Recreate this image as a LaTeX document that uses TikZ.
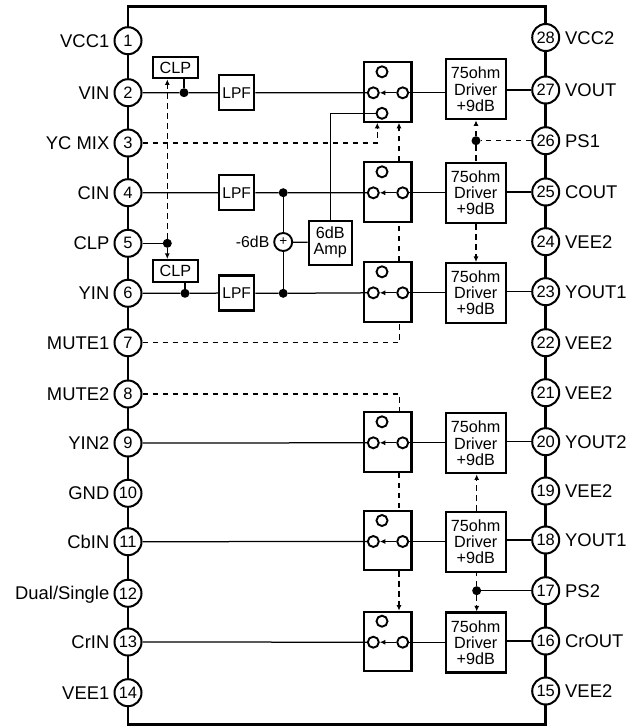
\documentclass[tikz,border=0pt]{standalone}
\usepackage{fontspec}
\setmainfont{Liberation Sans}
\usetikzlibrary{arrows.meta}
\newcommand{\fsz}[1]{\fontsize{#1}{16.2}\selectfont}
\tikzset{
  pinnode/.style={circle,draw,fill=white,line width=2pt,minimum size=27pt,inner sep=0pt,font=\fsz{16.5}},
  lbl/.style={inner sep=0pt,text height=13pt,text depth=0pt,font=\fsz{18.4}},
  boxbase/.style={draw,line width=2.1pt,fill=white,inner sep=0pt,align=center},
  swbox/.style={boxbase,minimum width=47.5pt,minimum height=59.4pt},
  drvbox/.style={boxbase,minimum width=60pt,minimum height=60pt,font=\fsz{16.2}},
  lpfbox/.style={boxbase,minimum width=35.3pt,minimum height=35pt,font=\fsz{15.6}},
  clpbox/.style={boxbase,minimum width=44.4pt,minimum height=21.6pt,font=\fsz{16.2}},
  ampbox/.style={boxbase,minimum width=43pt,minimum height=44pt,font=\fsz{16.2}},
  contact/.style={circle,draw,fill=white,line width=1.9pt,minimum size=11pt,inner sep=0pt},
  junction/.style={circle,fill=black,minimum size=9pt,inner sep=0pt},
  wire/.style={line width=1.25pt},
  ctl/.style={line width=1.15pt,dash pattern=on 5.5pt off 4.5pt},
  tip/.style={-{Latex[length=5.5pt,width=5pt]}},
}
\newcommand{\switchbox}[2]{%
  \node[swbox] (#1) at (387.7,#2+29.7) {};
  \node[contact] (#1t) at (382,#2+9.5) {};
  \node[contact] (#1l) at (373.3,#2+30.5) {};
  \node[contact] (#1r) at (402.7,#2+30.5) {};
  \draw[wire,tip] (#1r) -- (#1l);
}
\newcommand{\driver}[2]{\node[drvbox] (#1) at (475.7,#2+30) {75ohm\\Driver\\+9dB};}
\begin{document}
\begin{tikzpicture}[x=1pt,y=-1pt]
\useasboundingbox (0,0) rectangle (633,726);
\draw[line width=2.8pt] (128,6.3) rectangle (545.7,724.3);
% left pins
\foreach \n/\y/\t in {1/40.7/VCC1,2/92.7/VIN,3/143/YC MIX,4/192.7/CIN,5/243.3/CLP,6/293.3/YIN,7/342.7/MUTE1,8/394/MUTE2,9/443/YIN2,10/493.3/GND,11/541.7/CbIN,12/593.3/Dual\slash Single,13/642/CrIN,14/692.7/VEE1}{
  \node[pinnode] (L\n) at (128,\y) {\n};
  \node[lbl,anchor=east] (LT\n) at (109.5,\y) {\t};
}
% right pins
\foreach \n/\y/\t in {28/37.5/VCC2,27/90/VOUT,26/140.7/PS1,25/192/COUT,24/241.7/VEE2,23/291.7/YOUT1,22/342.7/VEE2,21/392.7/VEE2,20/441.7/YOUT2,19/491/VEE2,18/540/YOUT1,17/590.7/PS2,16/641/CrOUT,15/691/VEE2}{
  \node[pinnode] (R\n) at (545.7,\y) {\n};
  \node[lbl,anchor=west] (RT\n) at (565,\y) {\t};
}
% switches
\switchbox{swa}{62.3}
\node[contact] (swab) at (382,113.3) {};
\switchbox{swb}{162.3}
\switchbox{swc}{262.3}
\switchbox{swd}{412.3}
\switchbox{swe}{511}
\switchbox{swf}{611.7}
% drivers
\driver{da}{59.3}
\driver{db}{163}
\driver{dc}{263}
\driver{dd}{413.3}
\driver{de}{511.7}
\driver{df}{612.5}
% filters and clamps
\node[lpfbox] (lpfa) at (236.7,92.7) {LPF};
\node[lpfbox] (lpfb) at (236.7,192.7) {LPF};
\node[lpfbox] (lpfc) at (236.7,293) {LPF};
\node[clpbox] (clpa) at (175.5,67.5) {CLP};
\node[clpbox] (clpb) at (175.5,270.8) {CLP};
\node[ampbox] (amp) at (330.2,242.7) {6dB\\Amp};
% junctions
\node[junction] (ja) at (184,92.7) {};
\node[junction] (jb) at (185,293.3) {};
\node[junction] (jc) at (167.3,243.3) {};
\node[junction] (jd) at (283.2,192.7) {};
\node[junction] (je) at (283.2,293.3) {};
\node[junction] (jf) at (476,140.7) {};
\node[junction] (jg) at (476.7,590.7) {};
\node[circle,draw,line width=1.9pt,minimum size=18pt,inner sep=0pt,font=\fsz{13.5}] (add) at (283.2,242) {+};
\node[anchor=east,inner sep=0pt,font=\fsz{15.8}] (addl) at (269.5,242) {-6dB};
% signal wires
\draw[wire] (L2) -- (ja) -- (lpfa) -- (swal);
\draw[wire] (L4) -- (lpfb) -- (jd) -- (swbl);
\draw[wire] (L6) -- (jb) -- (lpfc) -- (je) -- (swcl);
\draw[wire] (ja) -- (ja |- clpa.south);
\draw[wire] (jb) -- (jb |- clpb.south);
\draw[wire] (L5) -- (jc);
\draw[wire] (jd) -- (add);
\draw[wire] (je) -- (add);
\draw[wire] (add) -- (amp);
\draw[wire] (amp) |- (swab);
\draw[wire] (L9) -- (swdl);
\draw[wire] (L11) -- (swel);
\draw[wire] (L13) -- (swfl);
\foreach \s/\d/\p in {swa/da/R27,swb/db/R25,swc/dc/R23,swd/dd/R20,swe/de/R18,swf/df/R16}{
  \draw[wire] (\s r) -- (\s r -| \d.west);
  \draw[wire] (\d.east |- \p) -- (\p);
}
\draw[wire] (R17) -- (jg);
% control lines
\draw[ctl,tip] (jc) -- (jc |- clpa.south);
\draw[ctl,tip] (jc) -- (jc |- clpb.north);
\draw[ctl,tip] (L3) -| ([xshift=-10.4pt]swa.south);
\draw[ctl,tip] ([xshift=11.3pt]swb.north) -- ([xshift=11.3pt]swa.south);
\draw[ctl] ([xshift=11.3pt]swc.north) -- ([xshift=11.3pt]swb.south);
\draw[ctl] (L7) -| ([xshift=11.8pt]swc.south);
\draw[ctl] (L8) -| ([xshift=11.8pt]swd.north);
\draw[ctl] ([xshift=11.3pt]swd.south) -- ([xshift=11.3pt]swe.north);
\draw[ctl,tip] ([xshift=11.3pt]swe.south) -- ([xshift=11.3pt]swf.north);
\draw[ctl] (R26) -- (jf);
\draw[ctl,tip] (jf) -- (jf |- da.south);
\draw[ctl] (jf) -- (jf |- db.north);
\draw[ctl,tip] (jf |- db.south) -- (jf |- dc.north);
\draw[ctl,tip] (jg |- de.north) -- (jg |- dd.south);
\draw[ctl] (jg) -- (jg |- de.south);
\draw[ctl,tip] (jg) -- (jg |- df.north);
\end{tikzpicture}
\end{document}
